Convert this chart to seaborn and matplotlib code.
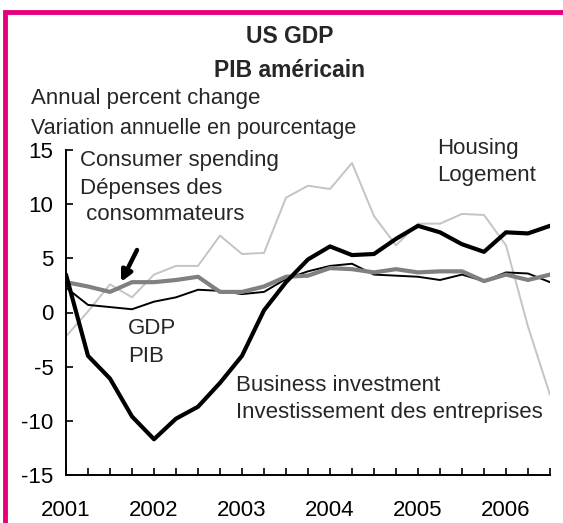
import numpy as np
import pandas as pd
import seaborn as sns
import matplotlib.pyplot as plt
from matplotlib.patches import Rectangle

# quarterly, 2001Q1 .. 2006Q3, annual percent change
years = [2001, 2002, 2003, 2004, 2005, 2006]
quarters = 2001 + np.arange(23) / 4

gdp = [2.3, 0.7, 0.5, 0.3, 1.0, 1.4, 2.1, 2.0, 1.7, 1.9, 3.1, 3.8,
       4.3, 4.5, 3.5, 3.4, 3.3, 3.0, 3.5, 2.9, 3.7, 3.6, 2.8]
consumer = [2.8, 2.4, 1.9, 2.8, 2.8, 3.0, 3.3, 1.9, 1.9, 2.4, 3.3, 3.4,
            4.1, 4.0, 3.7, 4.0, 3.7, 3.8, 3.8, 2.9, 3.5, 3.0, 3.5]
business = [3.5, -4.0, -6.1, -9.6, -11.7, -9.8, -8.7, -6.5, -4.0, 0.2, 2.8, 4.9,
            6.1, 5.3, 5.4, 6.8, 8.0, 7.4, 6.3, 5.6, 7.4, 7.3, 8.0]
housing = [-2.2, 0.1, 2.6, 1.4, 3.5, 4.3, 4.3, 7.1, 5.4, 5.5, 10.6, 11.7,
           11.4, 13.8, 8.9, 6.2, 8.2, 8.2, 9.1, 9.0, 6.2, -1.3, -7.6]

df = pd.DataFrame({'quarter': quarters, 'GDP': gdp, 'Consumer': consumer,
                   'Business': business, 'Housing': housing})

sns.set_style('ticks')
plt.rcParams['font.family'] = ['Liberation Sans', 'DejaVu Sans']
plt.rcParams['axes.unicode_minus'] = False

W, H = 563, 523
fig = plt.figure(figsize=(W / 100, H / 100), dpi=100)
ax = fig.add_axes([66 / W, 1 - 475 / H, (550 - 66) / W, (475 - 150) / H])

styles = [('Housing', '#c4c4c4', 1.4),
          ('GDP', 'black', 1.4),
          ('Consumer', '#808080', 3.0),
          ('Business', 'black', 3.0)]
for col, color, lw in styles:
    sns.lineplot(data=df, x='quarter', y=col, color=color, linewidth=lw, ax=ax)

ax.set_xlim(2001, 2006.5)
ax.set_ylim(-15, 15)
ax.set_xticks(quarters)
ax.set_xticklabels([str(int(q)) if q == int(q) else '' for q in quarters])
ax.set_yticks([-15, -10, -5, 0, 5, 10, 15])
ax.tick_params(axis='both', direction='in', length=5, width=1.2,
               labelsize=16, colors='black')
ax.tick_params(axis='x', pad=18)
ax.tick_params(axis='y', pad=9)
ax.set_xlabel('')
ax.set_ylabel('')
for s in ['top', 'right']:
    ax.spines[s].set_visible(False)
for s in ['left', 'bottom']:
    ax.spines[s].set_linewidth(1.4)
    ax.spines[s].set_color('black')
ax.set_facecolor('none')


def fx(px):
    return px / W


def fy(py):
    return 1 - py / H


# titles
fig.text(fx(290), fy(43), 'US GDP', ha='center', va='baseline', fontsize=16.5, fontweight='bold')
fig.text(fx(290), fy(77), 'PIB américain', ha='center', va='baseline', fontsize=16.5, fontweight='bold')
fig.text(fx(31), fy(104), 'Annual percent change', va='baseline', fontsize=16)
fig.text(fx(31), fy(134), 'Variation annuelle en pourcentage', va='baseline', fontsize=15.5)

# series labels
labels = [(80, 166, 'Consumer spending'), (80, 194, 'Dépenses des'), (80, 220, ' consommateurs'),
          (437, 154, 'Housing'), (437, 181, 'Logement'),
          (128, 334, 'GDP'), (128, 362, 'PIB'),
          (236, 391, 'Business investment'), (236, 418, 'Investissement des entreprises')]
for px, py, t in labels:
    fig.text(fx(px), fy(py), t, va='baseline', fontsize=16)

# arrow to consumer spending
fig.add_artist(plt.Annotation('', xy=(fx(121), fy(282)), xytext=(fx(137), fy(250)),
                              xycoords='figure fraction', textcoords='figure fraction',
                              arrowprops=dict(arrowstyle='-|>', color='black', lw=3.2,
                                              mutation_scale=16, shrinkA=0, shrinkB=0)))

# magenta frame
fig.add_artist(Rectangle((fx(5), -0.1), 1.2, fy(12) + 0.1, transform=fig.transFigure,
                         fill=False, edgecolor='#e5007e', linewidth=3.5))

fig.savefig('out.png', dpi=100)
